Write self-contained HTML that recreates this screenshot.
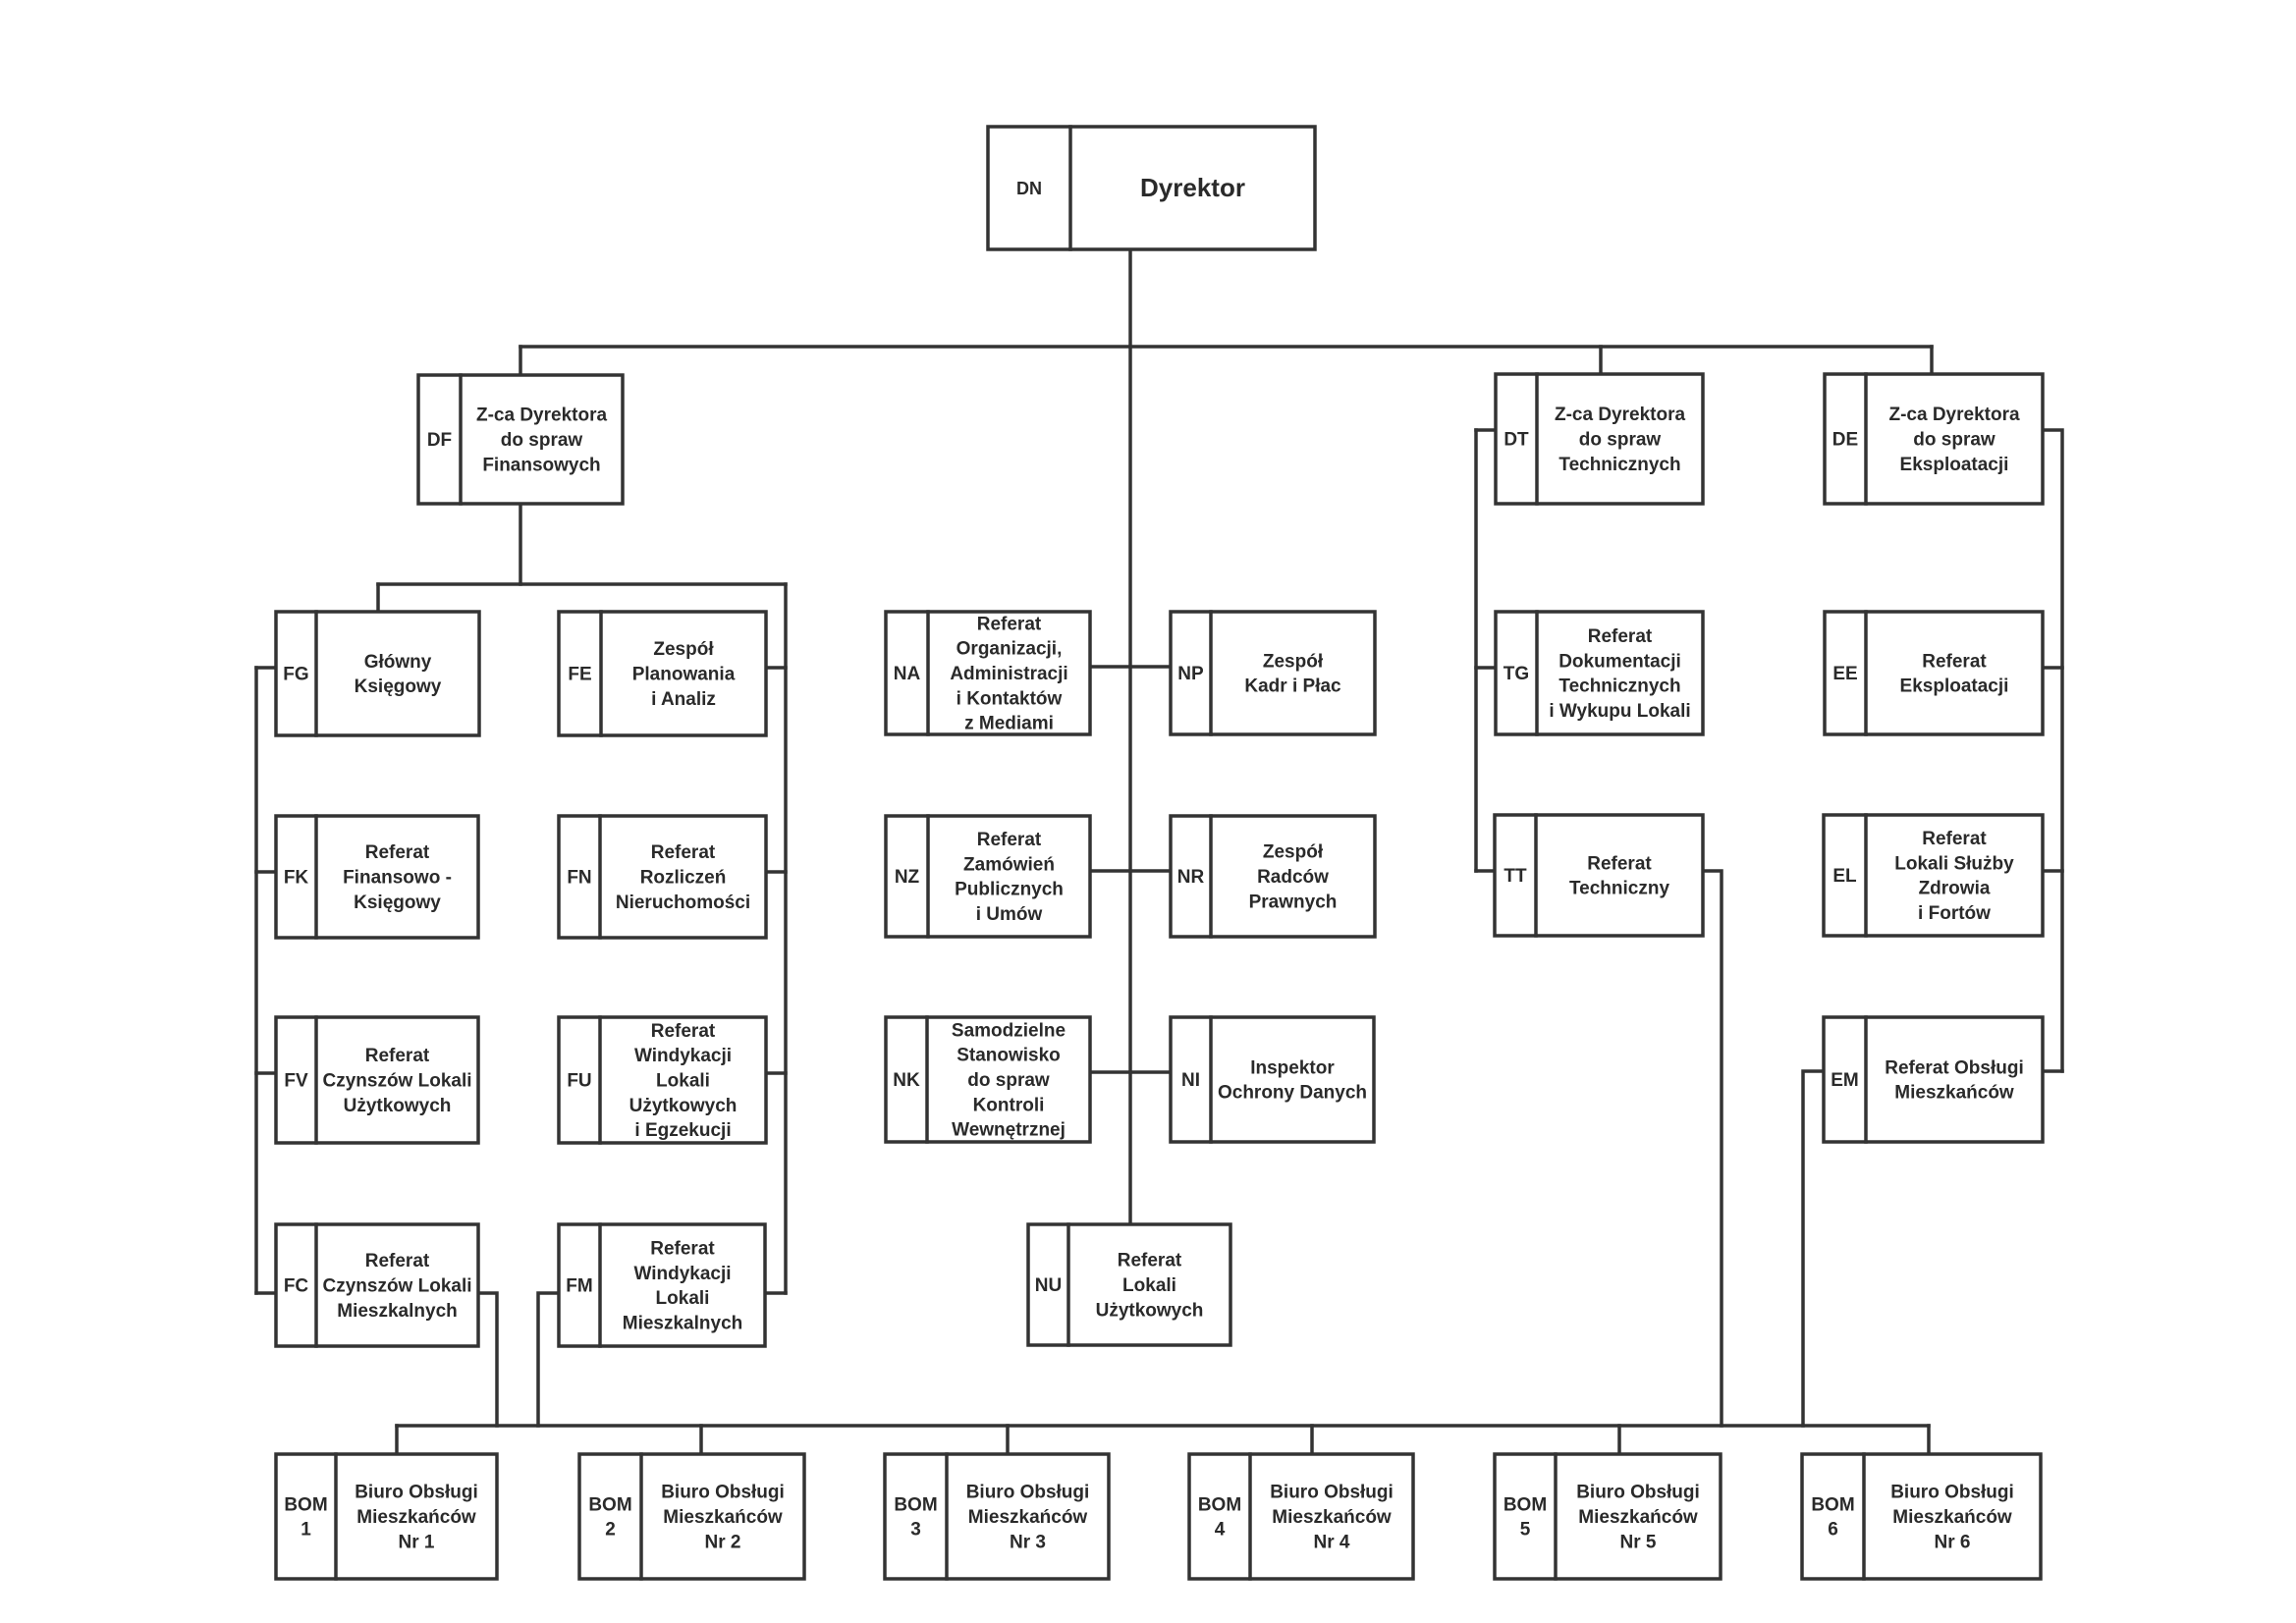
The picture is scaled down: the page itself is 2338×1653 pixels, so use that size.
<!DOCTYPE html>
<html>
<head>
<meta charset="utf-8">
<style>
  html, body { margin: 0; padding: 0; background: #ffffff; }
  svg { display: block; }
  .t { font-family: "Liberation Sans", Arial, sans-serif; font-weight: bold; font-size: 19px; fill: #2a2a2a; text-anchor: middle; }
  .big { font-size: 26px; }
  .c { font-size: 19px; }
  .ln { stroke: #333333; stroke-width: 3.5; fill: none; stroke-linecap: square; }
  .bx { stroke: #333333; stroke-width: 3.5; fill: #ffffff; }
</style>
</head>
<body>
<svg width="2338" height="1653" viewBox="0 0 2338 1653" xmlns="http://www.w3.org/2000/svg">
<rect x="0" y="0" width="2338" height="1653" fill="#ffffff"/>

<!-- connectors -->
<path class="ln" d="M1151 254 V1247"/>
<path class="ln" d="M530 353 H1967"/>
<path class="ln" d="M530 353 V382"/>
<path class="ln" d="M1630 353 V381"/>
<path class="ln" d="M1967 353 V381"/>

<path class="ln" d="M530 513 V595"/>
<path class="ln" d="M385 595 H800"/>
<path class="ln" d="M385 595 V623"/>
<path class="ln" d="M800 595 V1317"/>
<path class="ln" d="M780 680 H800"/>
<path class="ln" d="M780 888 H800"/>
<path class="ln" d="M780 1093 H800"/>
<path class="ln" d="M779 1317 H800"/>
<path class="ln" d="M261 680 V1317"/>
<path class="ln" d="M261 680 H281"/>
<path class="ln" d="M261 888 H281"/>
<path class="ln" d="M261 1093 H281"/>
<path class="ln" d="M261 1317 H281"/>
<path class="ln" d="M487 1317 H506 V1452"/>
<path class="ln" d="M569 1317 H548 V1452"/>

<path class="ln" d="M1110 679 H1192"/>
<path class="ln" d="M1110 887 H1192"/>
<path class="ln" d="M1110 1092 H1192"/>

<path class="ln" d="M1503 438 V887"/>
<path class="ln" d="M1503 438 H1523"/>
<path class="ln" d="M1503 680 H1523"/>
<path class="ln" d="M1503 887 H1522"/>
<path class="ln" d="M2080 438 H2100 V1091"/>
<path class="ln" d="M2080 680 H2100"/>
<path class="ln" d="M2080 887 H2100"/>
<path class="ln" d="M2080 1091 H2100"/>
<path class="ln" d="M1734 887 H1753 V1452"/>
<path class="ln" d="M1857 1091 H1836 V1452"/>

<path class="ln" d="M404 1452 H1964"/>
<path class="ln" d="M404 1452 V1481"/>
<path class="ln" d="M714 1452 V1481"/>
<path class="ln" d="M1026 1452 V1481"/>
<path class="ln" d="M1336 1452 V1481"/>
<path class="ln" d="M1649 1452 V1481"/>
<path class="ln" d="M1964 1452 V1481"/>

<!-- DN -->
<rect class="bx" x="1006" y="129" width="333" height="125"/>
<line class="ln" x1="1090" y1="129" x2="1090" y2="254"/>
<text class="t" x="1048" y="198" style="font-size:18px">DN</text>
<text class="t big" x="1214.5" y="200">Dyrektor</text>

<!-- DF -->
<rect class="bx" x="426" y="382" width="208" height="131"/>
<line class="ln" x1="469" y1="382" x2="469" y2="513"/>
<text class="t" x="447.5" y="454">DF</text>
<text class="t" x="551.5" y="428.7">Z-ca Dyrektora<tspan x="551.5" dy="25.3">do spraw</tspan><tspan x="551.5" dy="25.3">Finansowych</tspan></text>

<!-- DT -->
<rect class="bx" x="1523" y="381" width="211" height="132"/>
<line class="ln" x1="1565" y1="381" x2="1565" y2="513"/>
<text class="t" x="1544" y="453.5">DT</text>
<text class="t" x="1649.5" y="428.2">Z-ca Dyrektora<tspan x="1649.5" dy="25.3">do spraw</tspan><tspan x="1649.5" dy="25.3">Technicznych</tspan></text>

<!-- DE -->
<rect class="bx" x="1858" y="381" width="222" height="132"/>
<line class="ln" x1="1900" y1="381" x2="1900" y2="513"/>
<text class="t" x="1879" y="453.5">DE</text>
<text class="t" x="1990" y="428.2">Z-ca Dyrektora<tspan x="1990" dy="25.3">do spraw</tspan><tspan x="1990" dy="25.3">Eksploatacji</tspan></text>

<!-- FG -->
<rect class="bx" x="281" y="623" width="207" height="126"/>
<line class="ln" x1="322" y1="623" x2="322" y2="749"/>
<text class="t" x="301.5" y="692.5">FG</text>
<text class="t" x="405" y="679.85">Główny<tspan x="405" dy="25.3">Księgowy</tspan></text>

<!-- FE -->
<rect class="bx" x="569" y="623" width="211" height="126"/>
<line class="ln" x1="612" y1="623" x2="612" y2="749"/>
<text class="t" x="590.5" y="692.5">FE</text>
<text class="t" x="696" y="667.2">Zespół<tspan x="696" dy="25.3">Planowania</tspan><tspan x="696" dy="25.3">i Analiz</tspan></text>

<!-- FK -->
<rect class="bx" x="281" y="831" width="206" height="124"/>
<line class="ln" x1="322" y1="831" x2="322" y2="955"/>
<text class="t" x="301.5" y="899.5">FK</text>
<text class="t" x="404.5" y="874.2">Referat<tspan x="404.5" dy="25.3">Finansowo -</tspan><tspan x="404.5" dy="25.3">Księgowy</tspan></text>

<!-- FN -->
<rect class="bx" x="569" y="831" width="211" height="124"/>
<line class="ln" x1="611" y1="831" x2="611" y2="955"/>
<text class="t" x="590" y="899.5">FN</text>
<text class="t" x="695.5" y="874.2">Referat<tspan x="695.5" dy="25.3">Rozliczeń</tspan><tspan x="695.5" dy="25.3">Nieruchomości</tspan></text>

<!-- FV -->
<rect class="bx" x="281" y="1036" width="206" height="128"/>
<line class="ln" x1="322" y1="1036" x2="322" y2="1164"/>
<text class="t" x="301.5" y="1106.5">FV</text>
<text class="t" x="404.5" y="1081.2">Referat<tspan x="404.5" dy="25.3">Czynszów Lokali</tspan><tspan x="404.5" dy="25.3">Użytkowych</tspan></text>

<!-- FU -->
<rect class="bx" x="569" y="1036" width="211" height="128"/>
<line class="ln" x1="611" y1="1036" x2="611" y2="1164"/>
<text class="t" x="590" y="1106.5">FU</text>
<text class="t" x="695.5" y="1055.9">Referat<tspan x="695.5" dy="25.3">Windykacji</tspan><tspan x="695.5" dy="25.3">Lokali</tspan><tspan x="695.5" dy="25.3">Użytkowych</tspan><tspan x="695.5" dy="25.3">i Egzekucji</tspan></text>

<!-- FC -->
<rect class="bx" x="281" y="1247" width="206" height="124"/>
<line class="ln" x1="322" y1="1247" x2="322" y2="1371"/>
<text class="t" x="301.5" y="1315.5">FC</text>
<text class="t" x="404.5" y="1290.2">Referat<tspan x="404.5" dy="25.3">Czynszów Lokali</tspan><tspan x="404.5" dy="25.3">Mieszkalnych</tspan></text>

<!-- FM -->
<rect class="bx" x="569" y="1247" width="210" height="124"/>
<line class="ln" x1="611" y1="1247" x2="611" y2="1371"/>
<text class="t" x="590" y="1315.5">FM</text>
<text class="t" x="695" y="1277.55">Referat<tspan x="695" dy="25.3">Windykacji</tspan><tspan x="695" dy="25.3">Lokali</tspan><tspan x="695" dy="25.3">Mieszkalnych</tspan></text>

<!-- NA -->
<rect class="bx" x="902" y="623" width="208" height="125"/>
<line class="ln" x1="945" y1="623" x2="945" y2="748"/>
<text class="t" x="923.5" y="692">NA</text>
<text class="t" x="1027.5" y="641.4">Referat<tspan x="1027.5" dy="25.3">Organizacji,</tspan><tspan x="1027.5" dy="25.3">Administracji</tspan><tspan x="1027.5" dy="25.3">i Kontaktów</tspan><tspan x="1027.5" dy="25.3">z Mediami</tspan></text>

<!-- NP -->
<rect class="bx" x="1192" y="623" width="208" height="125"/>
<line class="ln" x1="1233" y1="623" x2="1233" y2="748"/>
<text class="t" x="1212.5" y="692">NP</text>
<text class="t" x="1316.5" y="679.35">Zespół<tspan x="1316.5" dy="25.3">Kadr i Płac</tspan></text>

<!-- NZ -->
<rect class="bx" x="902" y="831" width="208" height="123"/>
<line class="ln" x1="945" y1="831" x2="945" y2="954"/>
<text class="t" x="923.5" y="899">NZ</text>
<text class="t" x="1027.5" y="861.05">Referat<tspan x="1027.5" dy="25.3">Zamówień</tspan><tspan x="1027.5" dy="25.3">Publicznych</tspan><tspan x="1027.5" dy="25.3">i Umów</tspan></text>

<!-- NR -->
<rect class="bx" x="1192" y="831" width="208" height="123"/>
<line class="ln" x1="1233" y1="831" x2="1233" y2="954"/>
<text class="t" x="1212.5" y="899">NR</text>
<text class="t" x="1316.5" y="873.7">Zespół<tspan x="1316.5" dy="25.3">Radców</tspan><tspan x="1316.5" dy="25.3">Prawnych</tspan></text>

<!-- NK -->
<rect class="bx" x="902" y="1036" width="208" height="127"/>
<line class="ln" x1="944" y1="1036" x2="944" y2="1163"/>
<text class="t" x="923" y="1106">NK</text>
<text class="t" x="1027" y="1055.4">Samodzielne<tspan x="1027" dy="25.3">Stanowisko</tspan><tspan x="1027" dy="25.3">do spraw</tspan><tspan x="1027" dy="25.3">Kontroli</tspan><tspan x="1027" dy="25.3">Wewnętrznej</tspan></text>

<!-- NI -->
<rect class="bx" x="1192" y="1036" width="207" height="127"/>
<line class="ln" x1="1233" y1="1036" x2="1233" y2="1163"/>
<text class="t" x="1212.5" y="1106">NI</text>
<text class="t" x="1316" y="1093.35">Inspektor<tspan x="1316" dy="25.3">Ochrony Danych</tspan></text>

<!-- NU -->
<rect class="bx" x="1047" y="1247" width="206" height="123"/>
<line class="ln" x1="1088" y1="1247" x2="1088" y2="1370"/>
<text class="t" x="1067.5" y="1315">NU</text>
<text class="t" x="1170.5" y="1289.7">Referat<tspan x="1170.5" dy="25.3">Lokali</tspan><tspan x="1170.5" dy="25.3">Użytkowych</tspan></text>

<!-- TG -->
<rect class="bx" x="1523" y="623" width="211" height="125"/>
<line class="ln" x1="1565" y1="623" x2="1565" y2="748"/>
<text class="t" x="1544" y="692">TG</text>
<text class="t" x="1649.5" y="654.05">Referat<tspan x="1649.5" dy="25.3">Dokumentacji</tspan><tspan x="1649.5" dy="25.3">Technicznych</tspan><tspan x="1649.5" dy="25.3">i Wykupu Lokali</tspan></text>

<!-- EE -->
<rect class="bx" x="1858" y="623" width="222" height="125"/>
<line class="ln" x1="1900" y1="623" x2="1900" y2="748"/>
<text class="t" x="1879" y="692">EE</text>
<text class="t" x="1990" y="679.35">Referat<tspan x="1990" dy="25.3">Eksploatacji</tspan></text>

<!-- TT -->
<rect class="bx" x="1522" y="830" width="212" height="123"/>
<line class="ln" x1="1564" y1="830" x2="1564" y2="953"/>
<text class="t" x="1543" y="898">TT</text>
<text class="t" x="1649" y="885.35">Referat<tspan x="1649" dy="25.3">Techniczny</tspan></text>

<!-- EL -->
<rect class="bx" x="1857" y="830" width="223" height="123"/>
<line class="ln" x1="1900" y1="830" x2="1900" y2="953"/>
<text class="t" x="1878.5" y="898">EL</text>
<text class="t" x="1990" y="860.05">Referat<tspan x="1990" dy="25.3">Lokali Służby</tspan><tspan x="1990" dy="25.3">Zdrowia</tspan><tspan x="1990" dy="25.3">i Fortów</tspan></text>

<!-- EM -->
<rect class="bx" x="1857" y="1036" width="223" height="127"/>
<line class="ln" x1="1900" y1="1036" x2="1900" y2="1163"/>
<text class="t" x="1878.5" y="1106">EM</text>
<text class="t" x="1990" y="1093.35">Referat Obsługi<tspan x="1990" dy="25.3">Mieszkańców</tspan></text>

<!-- BOM 1 -->
<rect class="bx" x="281" y="1481" width="225" height="127"/>
<line class="ln" x1="342" y1="1481" x2="342" y2="1608"/>
<text class="t" x="311.5" y="1538.35">BOM<tspan x="311.5" dy="25.3">1</tspan></text>
<text class="t" x="424" y="1525.7">Biuro Obsługi<tspan x="424" dy="25.3">Mieszkańców</tspan><tspan x="424" dy="25.3">Nr 1</tspan></text>

<!-- BOM 2 -->
<rect class="bx" x="590" y="1481" width="229" height="127"/>
<line class="ln" x1="653" y1="1481" x2="653" y2="1608"/>
<text class="t" x="621.5" y="1538.35">BOM<tspan x="621.5" dy="25.3">2</tspan></text>
<text class="t" x="736" y="1525.7">Biuro Obsługi<tspan x="736" dy="25.3">Mieszkańców</tspan><tspan x="736" dy="25.3">Nr 2</tspan></text>

<!-- BOM 3 -->
<rect class="bx" x="901" y="1481" width="228" height="127"/>
<line class="ln" x1="964" y1="1481" x2="964" y2="1608"/>
<text class="t" x="932.5" y="1538.35">BOM<tspan x="932.5" dy="25.3">3</tspan></text>
<text class="t" x="1046.5" y="1525.7">Biuro Obsługi<tspan x="1046.5" dy="25.3">Mieszkańców</tspan><tspan x="1046.5" dy="25.3">Nr 3</tspan></text>

<!-- BOM 4 -->
<rect class="bx" x="1211" y="1481" width="228" height="127"/>
<line class="ln" x1="1273" y1="1481" x2="1273" y2="1608"/>
<text class="t" x="1242" y="1538.35">BOM<tspan x="1242" dy="25.3">4</tspan></text>
<text class="t" x="1356" y="1525.7">Biuro Obsługi<tspan x="1356" dy="25.3">Mieszkańców</tspan><tspan x="1356" dy="25.3">Nr 4</tspan></text>

<!-- BOM 5 -->
<rect class="bx" x="1522" y="1481" width="230" height="127"/>
<line class="ln" x1="1584" y1="1481" x2="1584" y2="1608"/>
<text class="t" x="1553" y="1538.35">BOM<tspan x="1553" dy="25.3">5</tspan></text>
<text class="t" x="1668" y="1525.7">Biuro Obsługi<tspan x="1668" dy="25.3">Mieszkańców</tspan><tspan x="1668" dy="25.3">Nr 5</tspan></text>

<!-- BOM 6 -->
<rect class="bx" x="1835" y="1481" width="243" height="127"/>
<line class="ln" x1="1898" y1="1481" x2="1898" y2="1608"/>
<text class="t" x="1866.5" y="1538.35">BOM<tspan x="1866.5" dy="25.3">6</tspan></text>
<text class="t" x="1988" y="1525.7">Biuro Obsługi<tspan x="1988" dy="25.3">Mieszkańców</tspan><tspan x="1988" dy="25.3">Nr 6</tspan></text>

</svg>
</body>
</html>
